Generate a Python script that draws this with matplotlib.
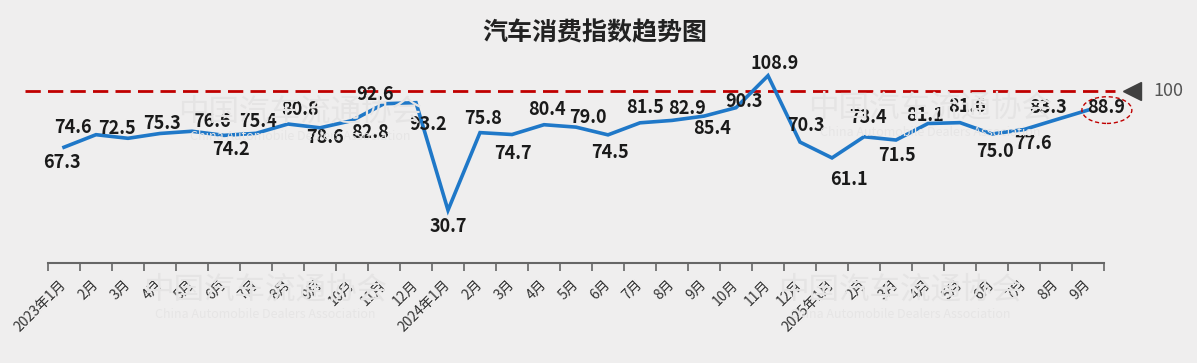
#!/usr/bin/env python3
import matplotlib.pyplot as plt
from matplotlib.patches import Ellipse

months = ["2023年1月", "2月", "3月", "4月", "5月", "6月", "7月", "8月", "9月", "10月", "11月", "12月",
          "2024年1月", "2月", "3月", "4月", "5月", "6月", "7月", "8月", "9月", "10月", "11月", "12月",
          "2025年1月", "2月", "3月", "4月", "5月", "6月", "7月", "8月", "9月"]
index_values = [67.3, 74.6, 72.5, 75.3, 76.6, 74.2, 75.4, 80.8, 78.6, 82.8, 92.6, 93.2,
                30.7, 75.8, 74.7, 80.4, 79.0, 74.5, 81.5, 82.9, 85.4, 90.3, 108.9, 70.3,
                61.1, 73.4, 71.5, 81.1, 81.6, 75.0, 77.6, 83.3, 88.9]
reference_level = 100

# label offsets in pixels (dx, dy with dy pointing down), hand placed like the original
label_offsets = [(-2, 15), (-23, -7), (-11, -10), (2, -10), (20, -10), (7, 14), (2, -12), (12, -15),
                 (5, 10), (18, 12), (-9, -9), (12, 22),
                 (0, 16), (3, -14), (1, 19), (3, -15), (12, -10), (2, 18), (5, -15), (15, -12),
                 (8, 12), (8, -6), (7, -12), (6, -17),
                 (17, 22), (4, -19), (1, 15), (-3, -8), (7, -16), (3, 18), (9, 14), (-8, -12), (18, -3)]

FONT = ["Noto Sans CJK SC", "DejaVu Sans"]
BG = "#efeeee"
BLUE = "#1f78c8"
RED = "#c00000"

plt.rcParams["font.family"] = FONT

W, H = 1197, 363
fig = plt.figure(figsize=(W / 100, H / 100), dpi=100, facecolor=BG)
ax_left, ax_right, ax_bottom, ax_top = 48, 1104, 263, 56.6
ax = fig.add_axes([ax_left / W, 1 - ax_bottom / H, (ax_right - ax_left) / W, (ax_bottom - ax_top) / H])
ax.set_facecolor("none")

n = len(index_values)
x = list(range(n))
ax.set_xlim(-0.5, n - 0.5)
ax.set_ylim(0, 120)

# faint watermarks
for wx, wy in [(300, 112), (930, 108), (265, 290), (900, 290)]:
    fig.text(wx / W, 1 - wy / H, "中国汽车流通协会", fontsize=22, color="#e5e4e4", ha="center", va="center", zorder=0)
    fig.text(wx / W, 1 - (wy + 24) / H, "China Automobile Dealers Association", fontsize=9, color="#e6e5e5",
             ha="center", va="center", zorder=0)

ax.plot([-1.22, n - 0.5 + 0.34], [reference_level] * 2, color=RED, lw=2.0, dashes=(5.5, 2.6),
        clip_on=False, zorder=2)
ax.plot(x, index_values, color=BLUE, lw=2.6, solid_joinstyle="miter", zorder=3)

for i, (v, (dx, dy)) in enumerate(zip(index_values, label_offsets)):
    ax.annotate(f"{v:.1f}", (i, v), xytext=(dx, -dy), textcoords="offset pixels", ha="center", va="center",
                fontsize=13, fontweight="bold", color="#1a1a1a", zorder=4)

# marker at reference level and circle around the latest value
ax.plot([n - 0.5 + 0.875], [reference_level], marker="<", markersize=13, color="#404040", clip_on=False)
ax.text(n - 0.5 + 1.55, reference_level, str(reference_level), fontsize=13, color="#555555",
        ha="left", va="center", clip_on=False)
ax.add_patch(Ellipse((n - 1 + 0.59, index_values[-1]), 1.56, 15.5, fill=False, ec=RED, lw=1.0,
                     ls=(0, (3, 2)), clip_on=False, zorder=5))

for side in ["top", "right", "left"]:
    ax.spines[side].set_visible(False)
ax.spines["bottom"].set_color("#666666")
ax.spines["bottom"].set_linewidth(1.5)
ax.set_yticks([])
ax.set_xticks(x)
ax.set_xticklabels(months, rotation=45, ha="right", va="center", rotation_mode="anchor", fontsize=10,
                   color="#333333")
ax.tick_params(axis="x", which="major", length=0, pad=14)
ax.set_xticks([i - 0.5 for i in range(n + 1)], minor=True)
ax.tick_params(axis="x", which="minor", length=6, width=1.2, color="#666666", direction="out")

fig.text(595 / W, 1 - 33 / H, "汽车消费指数趋势图", fontsize=18, fontweight="bold", color="#222222",
         ha="center", va="center")

fig.savefig("out.png", dpi=100, facecolor=BG)
